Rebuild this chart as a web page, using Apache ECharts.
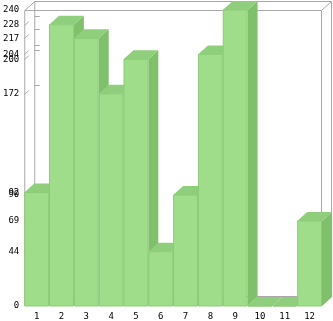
<!DOCTYPE html>
<html><head><meta charset="utf-8">
<script src="https://cdn.jsdelivr.net/npm/echarts@6/dist/echarts.min.js"></script>
<style>html,body{margin:0;padding:0;background:#fff}#c{width:333px;height:321px}</style>
</head><body><div id="c"></div>
<script>
const categories = ['1','2','3','4','5','6','7','8','9','10','11','12'];
const values = [92, 228, 217, 172, 200, 44, 90, 204, 240, 0, 0, 69];
const tickLabels = [240, 228, 217, 204, 200, 172, 92, 90, 69, 44, 0];
const yMax = 240;

const DX = 10, DY = -9;
const FRONT = '#a0dd8b', TOP = '#8fcf7b', SIDE = '#7fc06b', EDGE = '#8ccb78', FRAME = '#a8a8a8';

function renderBar(params, api) {
  const i = api.value(0), v = api.value(1);
  const t = api.coord([i, v]), b = api.coord([i, 0]);
  const w = api.size([1, 0])[0];
  const x0 = t[0] - w / 2, x1 = t[0] + w / 2, yT = t[1], yB = b[1];
  return { type: 'group', children: [
    { type: 'polygon', shape: { points: [[x1, yB], [x1 + DX, yB + DY], [x1 + DX, yT + DY], [x1, yT]] },
      style: { fill: SIDE } },
    { type: 'polygon', shape: { points: [[x0, yT], [x1, yT], [x1 + DX, yT + DY], [x0 + DX, yT + DY]] },
      style: { fill: TOP } },
    { type: 'rect', shape: { x: x0 + 0.5, y: yT, width: w - 1, height: yB - yT },
      style: { fill: FRONT, stroke: EDGE, lineWidth: 1 } }
  ]};
}

function renderFrame(params, api) {
  const w = api.size([1, 0])[0];
  const L = api.coord([0, 0])[0] - w / 2 + 0.5;
  const R = api.coord([categories.length - 1, 0])[0] + w / 2 - 0.5;
  const T = api.coord([0, yMax])[1] + 0.5;
  const B = api.coord([0, 0])[1] - 0.5;
  const ln = (x1, y1, x2, y2) => ({ type: 'line', shape: { x1, y1, x2, y2 }, style: { stroke: FRAME, lineWidth: 1 } });
  const ch = [
    ln(L + DX, T + DY, R + DX, T + DY),
    ln(L, T, L + DX, T + DY),
    ln(R, T, R + DX, T + DY),
    ln(L, T, R, T),
    ln(L, T, L, B),
    ln(L + DX, T + DY, L + DX, B + DY),
    ln(R, T, R, B),
    ln(R + DX, T + DY, R + DX, B + DY),
    ln(L, B, R, B),
    ln(L + DX, B + DY, R + DX, B + DY),
    ln(R, B, R + DX, B + DY),
    ln(L, B, L + DX, B + DY)
  ];
  tickLabels.forEach(v => {
    if (v === 0 || v === yMax) return;
    const y = Math.round(api.coord([0, v])[1]) + 0.5;
    ch.push(ln(L, y, L + 4, y - 4));
    ch.push(ln(L + DX, y + DY, L + DX + 5, y + DY));
  });
  return { type: 'group', children: ch };
}

const chart = echarts.init(document.getElementById('c'), null, { renderer: 'canvas' });
chart.setOption({
  animation: false,
  backgroundColor: '#fff',
  grid: { left: 22, right: 11, top: 10, bottom: 12 },
  xAxis: {
    type: 'category', data: categories, boundaryGap: true,
    axisLine: { show: false }, axisTick: { show: false }, splitLine: { show: false },
    axisLabel: { margin: 6, fontSize: 9, fontFamily: 'DejaVu Sans Mono', color: '#000' }
  },
  yAxis: {
    type: 'value', min: 0, max: yMax,
    axisLine: { show: false }, axisTick: { show: false }, splitLine: { show: false },
    axisLabel: { customValues: tickLabels, margin: 5, fontSize: 9, fontFamily: 'DejaVu Sans Mono',
      color: '#000', padding: [0, 0, 5, 0] }
  },
  series: [
    { type: 'custom', renderItem: renderFrame, data: [[0, 0]], z: 1, silent: true },
    { type: 'custom', renderItem: renderBar, z: 2,
      data: values.map((v, i) => [i, v]) }
  ]
});
</script>
</body></html>
